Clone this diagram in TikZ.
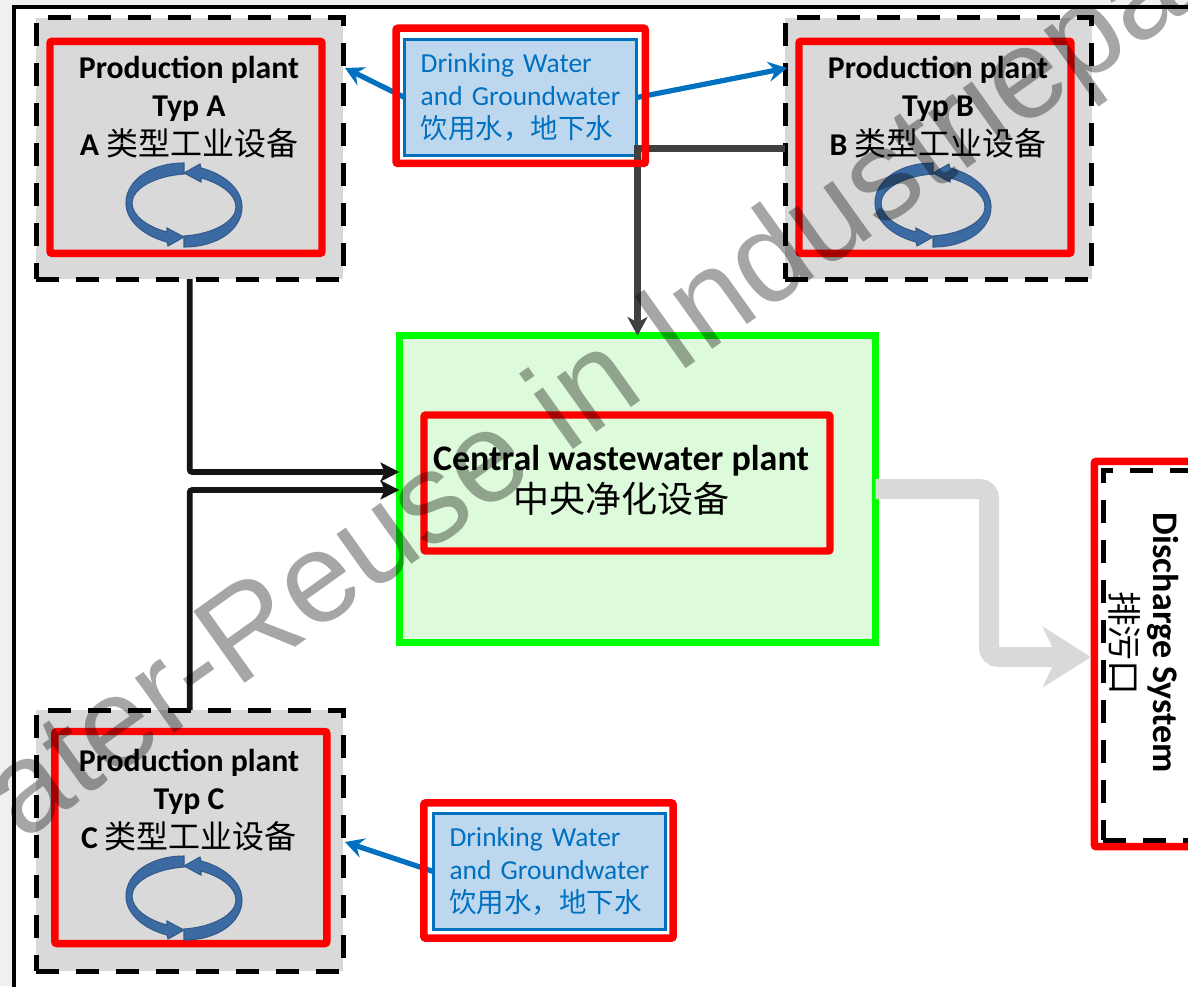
\documentclass[tikz,border=0pt]{standalone}
\usepackage{fontspec}
\setmainfont{Carlito}
\newfontfamily\cjk{Noto Sans CJK SC}
\newfontfamily\markfont{Liberation Sans}
\usetikzlibrary{arrows.meta, positioning}
\definecolor{plantgray}{HTML}{D9D9D9}
\definecolor{pagegray}{HTML}{F0F0F0}
\definecolor{waterblue}{HTML}{0070C0}
\definecolor{waterfill}{HTML}{BDD7EE}
\definecolor{cleangreen}{HTML}{DDFBDA}
\definecolor{cyclblue}{HTML}{3C6AA2}
\definecolor{pipegray}{HTML}{404040}
\newcommand{\plantlabel}[2]{\textbf{Production plant}\\\textbf{Typ #1}\\\textbf{#1} {\cjk\fontsize{24}{29}\selectfont #2}}
\newcommand{\waterlabel}{Drinking Water\\and Groundwater\\{\cjk\fontsize{20.6}{24.75}\selectfont 饮用水，地下水}}

\begin{document}
\begin{tikzpicture}
  [
    x=0.75pt, y=-0.75pt,
    Dashes/.style={draw=black, line width=3.75pt, dash pattern=on 17.25pt off 12.75pt},
    Plant/.style={rectangle, Dashes, fill=plantgray, outer sep=0pt, minimum width=230pt, minimum height=196pt},
    RedBox/.style={rectangle, draw=red, line width=5.6pt, rounded corners=1.5pt, outer sep=0pt},
    PlantRed/.style={RedBox, minimum width=204pt, minimum height=159pt},
    WaterRed/.style={RedBox, minimum width=187pt, minimum height=101.5pt},
    Water/.style={rectangle, draw=waterblue, fill=waterfill, line width=2.25pt, outer sep=0pt, minimum width=174pt, minimum height=87pt,
      text=waterblue, text width=150pt, align=left, font=\fontsize{20.6}{24.75}\selectfont},
    PlantText/.style={align=center, font=\fontsize{23.8}{29}\selectfont},
    BlueLine/.style={draw=waterblue, line width=3.9pt, -{Stealth[length=14pt, width=15pt, inset=5pt]}},
    DarkLine/.style={draw=pipegray, line width=4.6pt, -{Stealth[length=14pt, width=15pt, inset=4pt]}},
    BlackLine/.style={draw=black!92, line width=4.4pt, rounded corners=2pt, -{Stealth[length=14pt, width=14pt, inset=3pt]}},
    GrayLine/.style={draw=plantgray, line width=15pt, rounded corners=7pt, -{Stealth[length=36pt, width=45pt, inset=10.5pt]}},
    Cycle/.pic={
      \foreach \turn in {0,180}
        \fill[cyclblue, draw=cyclblue!85!black, line width=0.8pt, rotate=\turn] (0,-42) .. controls (-34,-42) and (-58,-24) .. (-58,-2)
          .. controls (-58,16) and (-40,31) .. (-17,37) -- (-16,41) -- (0,32) -- (-17,23) -- (-17,27)
          .. controls (-36,22) and (-52,11) .. (-52,-2) .. controls (-52,-16) and (-30,-29) .. (0,-31) -- cycle;
    }
  ]
  \path[clip, use as bounding box] (0,0) rectangle (1188,986);
  \fill[pagegray] (0,0) rectangle (1188,986);
  \draw[black, line width=2.4pt, fill=white] (14,7) rectangle (1300,1100);
  % Nodes
  \node[Plant] (plantA) at (189.7, 148.5) {};
  \node[Plant] (plantB) at (938.5, 148.5) {};
  \node[Plant] (plantC) at (189.7, 840.8) {};
  \node[PlantRed] (redA) at (186, 147.3) {};
  \node[PlantRed] (redB) at (935, 147.3) {};
  \node[PlantRed] (redC) at (190.8, 837.5) {};
  \node[PlantText] (textA) at (189, 107) {\plantlabel{A}{类型工业设备}};
  \node[PlantText] (textB) at (938, 107) {\plantlabel{B}{类型工业设备}};
  \node[PlantText] (textC) at (189, 800) {\plantlabel{C}{类型工业设备}};
  \pic (cycleA) at (184, 205) {Cycle};
  \pic (cycleB) at (933, 205) {Cycle};
  \pic (cycleC) at (184, 898) {Cycle};
  \node[rectangle, draw=green, fill=cleangreen, line width=5.25pt, outer sep=0pt, minimum width=357.3pt, minimum height=230pt] (central) at (637.5, 489) {};
  \node[RedBox, minimum width=304.5pt, minimum height=102pt, align=center] (centralred) at (627, 483) {};
  \node[align=center, font=\fontsize{27}{31.5}\selectfont] (centraltext) at (621, 480) {\textbf{Central wastewater plant}\\{\cjk\fontsize{27}{31.5}\selectfont 中央净化设备}};
  \node[Water] (waterA) at (520.7, 97.5) {\waterlabel};
  \node[Water] (waterC) at (549.5, 871.5) {\waterlabel};
  \node[rectangle, Dashes, outer sep=0pt, minimum width=180pt, minimum height=277.5pt] (dischargedash) at (1223, 655) {};
  \node[RedBox, outer sep=0pt, minimum width=180pt, minimum height=289pt] (discharge) at (1214.3, 654) {};
  \node[rotate=-90, align=center, font=\fontsize{27}{31.5}\selectfont] (dischargetext) at (1144, 643) {\textbf{Discharge System}\\{\cjk\fontsize{26}{31.5}\selectfont 排污口}};
  \coordinate (inA) at (345, 68);
  \coordinate (inB) at (787, 68);
  \coordinate (inC) at (345, 842);
  \coordinate (centralA) at (399.3, 472);
  \coordinate (centralC) at (399.3, 490);
  \coordinate (elbow) at (989, 657);
  \coordinate (dischargein) at (1091, 657);
  % Lines
  \path [BlueLine] (waterA.west) -- (inA);
  \path [BlueLine] (waterA.east) -- (inB);
  \path [BlueLine] (waterC.west) -- (inC);
  \path [DarkLine] (plantB.west) -| (central.north);
  \path [BlackLine] (plantA.south) |- (centralA);
  \path [BlackLine] (plantC.north) |- (centralC);
  \path [GrayLine] (central.east) -| (elbow) -- (dischargein);
  \node[WaterRed] (waterAred) at (520.7, 95.8) {};
  \node[WaterRed] (waterCred) at (548.5, 870.5) {};
  % Watermark
  \node[rotate=35.5, text=black, text opacity=0.35, font=\markfont\fontsize{96}{96}\selectfont] (watermark) at (588, 398) {ater-Reuse in Industriepa};
\end{tikzpicture}
\end{document}
